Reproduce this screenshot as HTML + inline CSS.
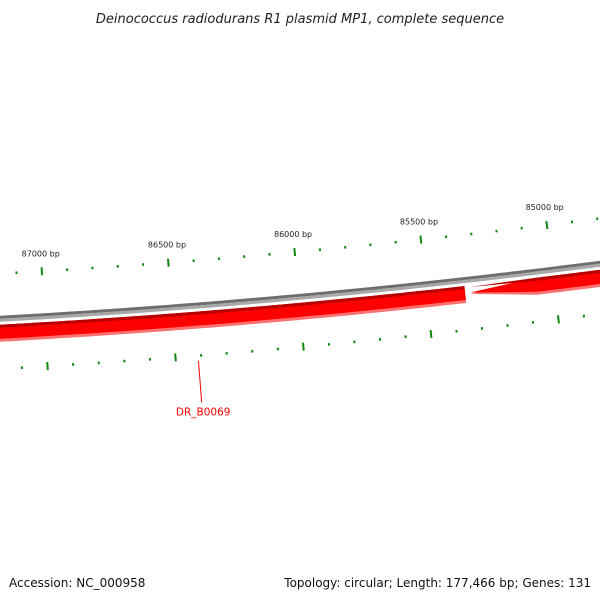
<!DOCTYPE html>
<html><head><meta charset="utf-8"><style>
html,body{margin:0;padding:0;background:#fff;}
svg{display:block;}
text{font-family:"DejaVu Sans","Liberation Sans",sans-serif;}
</style></head><body>
<svg id="map" width="600" height="600" viewBox="0 0 600 600" xmlns="http://www.w3.org/2000/svg">
<rect width="600" height="600" fill="#fff"/>
<text x="300" y="23" text-anchor="middle" font-size="13" font-style="italic" fill="#222">Deinococcus radiodurans R1 plasmid MP1, complete sequence</text>
<g id="ticks"></g>
<g id="backbone"></g>
<g id="features"></g>
<text x="9" y="587" font-size="12" fill="#111">Accession: NC_000958</text>
<text x="591" y="587" text-anchor="end" font-size="12" fill="#111">Topology: circular; Length: 177,466 bp; Genes: 131</text>
</svg>
<script>
// data
const tickStart = 84500;
const tickEnd = 87600;
const tickStep = 100;
const labelStep = 500;
const featureStarts = [85350, 84000];
const featureEnds = [88200, 85330];
const featureStrands = [1, -1];
const geneLabels = ["DR_B0069"];
const geneLabelPositions = [86412];

// geometry (view of a huge circle)
const CX = -448, CY = -7869, R = 8200;
const A0 = 0.0912, K = 3.11e-5;
function ang(bp){ return A0 + (86000 - bp) * K; }
function pt(bp, r){ const a = ang(bp); return [CX + r*Math.sin(a), CY + r*Math.cos(a)]; }
const NS = 'http://www.w3.org/2000/svg';
function mk(tag, attrs, parent){ const e = document.createElementNS(NS, tag); for (const k in attrs) e.setAttribute(k, attrs[k]); parent.appendChild(e); return e; }
function arcPath(b1, b2, r){ let d = ''; const n = 80; for (let i=0;i<=n;i++){ const b = b1 + (b2-b1)*i/n; const p = pt(b, r); d += (i?'L':'M') + p[0].toFixed(2) + ' ' + p[1].toFixed(2); } return d; }

const ticks = document.getElementById('ticks');
for (let bp = tickStart; bp <= tickEnd; bp += tickStep){
  const major = bp % labelStep === 0;
  [[R-45, major?4:1.3],[R+50, major?4:1.3]].forEach(([rc, h])=>{
    const p1 = pt(bp, rc-h), p2 = pt(bp, rc+h);
    const l = mk('line', {x1:p1[0],y1:p1[1],x2:p2[0],y2:p2[1],stroke:'#118811','stroke-width':2}, ticks);
    
    
  });
  if (major){
    const p = pt(bp, R-63);
    const t = mk('text', {x:p[0], y:p[1]+3, 'text-anchor':'middle', 'font-size':8, fill:'#222'}, ticks);
    t.textContent = bp + ' bp';
    
    
  }
}

const bb = document.getElementById('backbone');
const b1 = mk('path', {d:arcPath(84000, 88200, R-1.5), stroke:'#6e6e6e', 'stroke-width':3, fill:'none'}, bb);


const b2 = mk('path', {d:arcPath(84000, 88200, R+1.5), stroke:'#a8a8a8', 'stroke-width':3, fill:'none'}, bb);



const fg = document.getElementById('features');
function featurePoly(s, e, strand, r1, r2){
  // s < e in bp; strand -1: arrow at the low-bp end? (reverse gene points toward higher bp = left)
  const head = 260; // bp length of head
  let pts = [];
  const n = 80;
  const tipBp = strand < 0 ? e : null;
  const bodyEnd = strand < 0 ? e - head : e;
  for (let i=0;i<=n;i++){ const b = s + (bodyEnd-s)*i/n; pts.push(pt(b, r1)); }
  if (strand < 0) pts.push(pt(e, (r1+r2)/2));
  for (let i=n;i>=0;i--){ const b = s + (bodyEnd-s)*i/n; pts.push(pt(b, r2)); }
  return pts.map(p=>p[0].toFixed(2)+','+p[1].toFixed(2)).join(' ');
}
for (let i=0;i<featureStarts.length;i++){
  const s = Math.min(featureStarts[i], featureEnds[i]), e = Math.max(featureStarts[i], featureEnds[i]);
  const g = mk('g', {}, fg);
  
  
  mk('polygon', {points:featurePoly(s, e, featureStrands[i], R+6, R+23), fill:'#ff7070'}, g);
  mk('polygon', {points:featurePoly(s, e, featureStrands[i], R+6, R+20), fill:'#ff0000'}, g);
  const top = mk('polygon', {points:featurePoly(s, e, featureStrands[i], R+6, R+9), fill:'#b80000'}, g);
  
  
}
for (let i=0;i<geneLabels.length;i++){
  const p1 = pt(geneLabelPositions[i], R+55), p2 = pt(geneLabelPositions[i], R+97);
  const l = mk('line', {x1:p1[0],y1:p1[1],x2:p2[0],y2:p2[1],stroke:'#ff0000','stroke-width':1}, fg);
  
  
  const t = mk('text', {x:p2[0]+1.5, y:p2[1]+13, 'text-anchor':'middle', 'font-size':10.5, fill:'#ff0000'}, fg);
  t.textContent = geneLabels[i];
  
  
}
</script>
</body></html>
